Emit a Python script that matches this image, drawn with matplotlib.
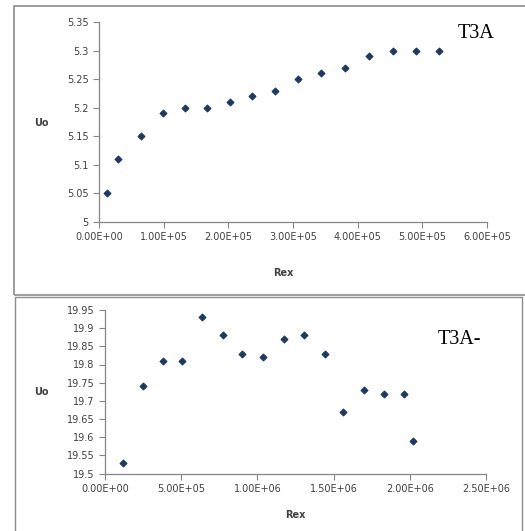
import matplotlib.pyplot as plt
from matplotlib.patches import Rectangle
from matplotlib.ticker import FuncFormatter, MultipleLocator

# Top panel (T3A)
rex_top = [1.3e4, 3.0e4, 6.5e4, 9.85e4, 1.33e5, 1.67e5, 2.02e5, 2.37e5,
           2.72e5, 3.08e5, 3.44e5, 3.81e5, 4.18e5, 4.55e5, 4.90e5, 5.26e5]
uo_top = [5.05, 5.11, 5.15, 5.19, 5.20, 5.20, 5.21, 5.22,
          5.23, 5.25, 5.26, 5.27, 5.29, 5.30, 5.30, 5.30]

# Bottom panel (T3A-)
rex_bot = [1.18e5, 2.52e5, 3.83e5, 5.05e5, 6.39e5, 7.72e5, 9.01e5, 1.037e6,
           1.172e6, 1.304e6, 1.444e6, 1.560e6, 1.697e6, 1.829e6, 1.962e6, 2.023e6]
uo_bot = [19.53, 19.74, 19.81, 19.81, 19.93, 19.88, 19.83, 19.82,
          19.87, 19.88, 19.83, 19.67, 19.73, 19.72, 19.72, 19.59]

W, H = 525, 531
fig = plt.figure(figsize=(W / 100, H / 100), dpi=100)

# chart frames
frame_col = '#8c8c8c'
fig.patches.append(Rectangle((14 / W, 1 - 295 / H), (W - 12) / W, (295 - 6) / H,
                             transform=fig.transFigure, fill=False,
                             edgecolor=frame_col, linewidth=1.2))
fig.patches.append(Rectangle((15 / W, -0.01), (522 - 15) / W, 1 - 297 / H + 0.01,
                             transform=fig.transFigure, fill=False,
                             edgecolor=frame_col, linewidth=1.0))

axis_col = '#868686'
text_col = '#404040'
mk_col = '#1f3a5f'


def style(ax):
    for s in ['top', 'right']:
        ax.spines[s].set_visible(False)
    for s in ['left', 'bottom']:
        ax.spines[s].set_color(axis_col)
        ax.spines[s].set_linewidth(0.9)
    ax.tick_params(axis='both', colors=axis_col, labelcolor=text_col,
                   labelsize=7, length=4, width=0.8, direction='out')
    ax.xaxis.set_major_formatter(FuncFormatter(lambda v, p: '%.2E' % v))
    ax.yaxis.set_major_formatter(FuncFormatter(lambda v, p: '%g' % round(v, 4)))


# top chart
ax1 = fig.add_axes([99 / W, 1 - 222 / H, (487 - 99) / W, (222 - 22) / H])
ax1.scatter(rex_top, uo_top, marker='D', s=11, color=mk_col, zorder=3)
ax1.set_xlim(0, 6e5)
ax1.set_ylim(5, 5.35)
ax1.xaxis.set_major_locator(MultipleLocator(1e5))
ax1.yaxis.set_major_locator(MultipleLocator(0.05))
style(ax1)
fig.text(283 / W, 1 - 273 / H, 'Rex', ha='center', va='center',
         fontsize=7, fontweight='bold', color=text_col)
fig.text(41 / W, 1 - 123 / H, 'Uo', ha='center', va='center',
         fontsize=7, fontweight='bold', color=text_col)
fig.text(476 / W, 1 - 33 / H, 'T3A', ha='center', va='center',
         fontsize=14.5, family='Liberation Serif', color='black')

# bottom chart
ax2 = fig.add_axes([105 / W, 1 - 473.5 / H, (486 - 105) / W, (473.5 - 310) / H])
ax2.scatter(rex_bot, uo_bot, marker='D', s=11, color=mk_col, zorder=3)
ax2.set_xlim(0, 2.5e6)
ax2.set_ylim(19.5, 19.95)
ax2.xaxis.set_major_locator(MultipleLocator(5e5))
ax2.yaxis.set_major_locator(MultipleLocator(0.05))
style(ax2)
fig.text(295 / W, 1 - 515 / H, 'Rex', ha='center', va='center',
         fontsize=7, fontweight='bold', color=text_col)
fig.text(41 / W, 1 - 392 / H, 'Uo', ha='center', va='center',
         fontsize=7, fontweight='bold', color=text_col)
fig.text(459 / W, 1 - 339 / H, 'T3A-', ha='center', va='center',
         fontsize=14.5, family='Liberation Serif', color='black')

fig.savefig('out.png', dpi=100)
